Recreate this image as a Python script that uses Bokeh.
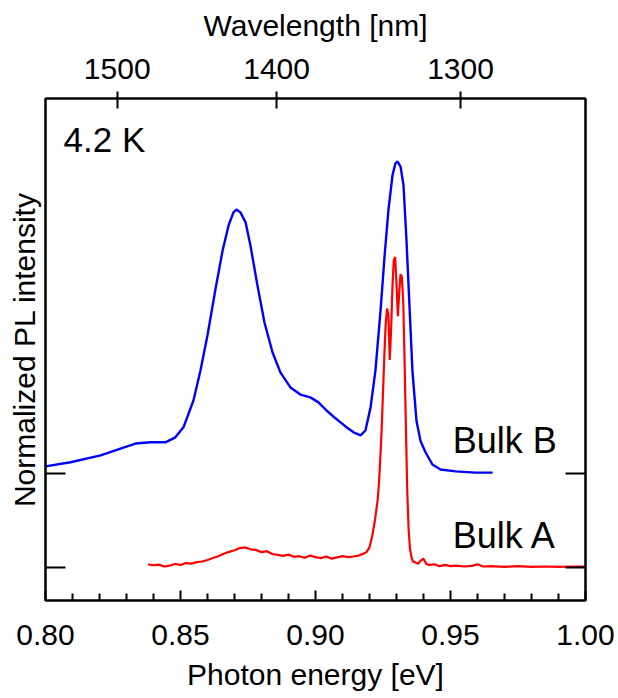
from bokeh.plotting import figure
from bokeh.models import (Range1d, LinearAxis, FixedTicker, CustomJSTickFormatter,
                          Label, NumeralTickFormatter)
from bokeh.embed import file_html
from bokeh.resources import INLINE

# ---------------- data ----------------
bulkB_energy = [0.8000, 0.8093, 0.8204, 0.8278, 0.8333, 0.8389, 0.8444, 0.8481, 0.8511,
                0.8548, 0.8574, 0.8600, 0.8630, 0.8656, 0.8678, 0.8696, 0.8707, 0.8722,
                0.8741, 0.8759, 0.8785, 0.8811, 0.8841, 0.8870, 0.8907, 0.8944, 0.8981,
                0.9011, 0.9041, 0.9074, 0.9111, 0.9141, 0.9167, 0.9185, 0.9204, 0.9222,
                0.9241, 0.9256, 0.9270, 0.9285, 0.9296, 0.9304, 0.9315, 0.9326, 0.9337,
                0.9348, 0.9359, 0.9374, 0.9389, 0.9407, 0.9433, 0.9463, 0.9519, 0.9593,
                0.9656]
bulkB_intensity = [0.024, 0.037, 0.059, 0.081, 0.097, 0.101, 0.101, 0.117, 0.149,
                   0.235, 0.331, 0.444, 0.594, 0.716, 0.796, 0.838, 0.847, 0.838,
                   0.806, 0.732, 0.604, 0.485, 0.389, 0.325, 0.277, 0.254, 0.245,
                   0.229, 0.203, 0.178, 0.152, 0.133, 0.123, 0.139, 0.213, 0.331,
                   0.524, 0.700, 0.844, 0.956, 0.995, 1.001, 0.985, 0.924, 0.748,
                   0.540, 0.330, 0.170, 0.105, 0.070, 0.030, 0.014, 0.008, 0.004,
                   0.004]

bulkA_energy = [0.838, 0.840, 0.842, 0.844, 0.846, 0.848, 0.850, 0.852, 0.854, 0.856,
                0.858, 0.860, 0.862, 0.864, 0.866, 0.868, 0.870, 0.872, 0.874, 0.876,
                0.878, 0.880, 0.882, 0.884, 0.886, 0.888, 0.890, 0.892, 0.894, 0.896,
                0.898, 0.900, 0.902, 0.904, 0.906, 0.908, 0.910, 0.912, 0.914, 0.916,
                0.918, 0.919, 0.920, 0.921, 0.922, 0.923, 0.9235, 0.924, 0.9245, 0.925,
                0.9255, 0.926, 0.9265, 0.9270, 0.9275, 0.928, 0.9285, 0.929, 0.9295, 0.930,
                0.9305, 0.931, 0.9315, 0.932, 0.9325, 0.933, 0.9335, 0.934, 0.9345, 0.935,
                0.9355, 0.936, 0.937, 0.938, 0.939, 0.940, 0.941, 0.942, 0.944, 0.946,
                0.948, 0.950, 0.952, 0.955, 0.958, 0.960, 0.962, 0.965, 0.970, 0.975,
                0.980, 0.985, 0.990, 0.995, 1.000]
bulkA_intensity = [0.010, 0.007, 0.009, 0.003, 0.006, 0.011, 0.008, 0.014, 0.012, 0.017,
                   0.019, 0.024, 0.030, 0.036, 0.044, 0.050, 0.055, 0.062, 0.064, 0.058,
                   0.056, 0.049, 0.052, 0.043, 0.040, 0.037, 0.041, 0.034, 0.036, 0.031,
                   0.038, 0.033, 0.030, 0.035, 0.028, 0.032, 0.036, 0.033, 0.035, 0.038,
                   0.045, 0.050, 0.065, 0.100, 0.150, 0.215, 0.270, 0.350, 0.440, 0.560,
                   0.680, 0.780, 0.830, 0.810, 0.665, 0.760, 0.900, 0.985, 0.995, 0.910,
                   0.805, 0.880, 0.940, 0.930, 0.850, 0.660, 0.440, 0.240, 0.120, 0.060,
                   0.035, 0.020, 0.016, 0.012, 0.022, 0.028, 0.012, 0.008, 0.010, 0.004,
                   0.008, 0.004, 0.006, 0.003, 0.005, 0.010, 0.003, 0.004, 0.002, 0.004,
                   0.002, 0.003, 0.002, 0.003, 0.003]

bulkB_offset = 0.3
energy_ticks = [0.80, 0.85, 0.90, 0.95, 1.00]
energy_minor_ticks = [0.81, 0.82, 0.83, 0.84, 0.86, 0.87, 0.88, 0.89, 0.91, 0.92,
                      0.93, 0.94, 0.96, 0.97, 0.98, 0.99]
wavelength_ticks_nm = [1500, 1400, 1300]
hc_eVnm = 1239.84
baseline_ticks = [0.0, bulkB_offset]

FONT = "Liberation Sans"

# ---------------- figure ----------------
p = figure(width=618, height=698, output_backend="svg", toolbar_location=None,
           x_range=Range1d(0.80, 1.00), y_range=Range1d(-0.106, 1.503),
           x_axis_location=None, y_axis_location=None,
           min_border_left=45, min_border_right=33, min_border_top=98, min_border_bottom=98)
p.xgrid.visible = False
p.ygrid.visible = False
p.outline_line_color = "black"
p.outline_line_width = 2
p.background_fill_color = "white"
p.border_fill_color = "white"

p.line(bulkB_energy, [v + bulkB_offset for v in bulkB_intensity], line_color="#0000FF", line_width=2.4)
p.line(bulkA_energy, bulkA_intensity, line_color="#FF0000", line_width=2.2)

def style_axis(ax):
    ax.axis_line_width = 2
    ax.major_tick_line_width = 2
    ax.minor_tick_line_width = 2
    ax.axis_label_text_font = FONT
    ax.axis_label_text_font_style = "normal"
    ax.axis_label_text_font_size = "30px"
    ax.major_label_text_font = FONT
    ax.major_label_text_font_size = "30px"
    ax.axis_label_text_color = "black"
    ax.major_label_text_color = "black"

# bottom axis
xb = LinearAxis(ticker=FixedTicker(ticks=energy_ticks, minor_ticks=energy_minor_ticks),
                formatter=NumeralTickFormatter(format="0.00"),
                axis_label="Photon energy [eV]")
style_axis(xb)
xb.major_tick_in = 10
xb.major_tick_out = 0
xb.minor_tick_in = 7
xb.minor_tick_out = 0
xb.major_label_standoff = 24
xb.axis_label_standoff = 10
p.add_layout(xb, "below")

# top axis (wavelength)
xt = LinearAxis(ticker=FixedTicker(ticks=[hc_eVnm / w for w in wavelength_ticks_nm], minor_ticks=[]),
                formatter=CustomJSTickFormatter(code="return Math.round(1239.84 / tick).toString();"),
                axis_label="Wavelength [nm]")
style_axis(xt)
xt.major_tick_in = 10
xt.major_tick_out = 7
xt.minor_tick_in = 0
xt.minor_tick_out = 0
xt.major_label_standoff = 13
xt.axis_label_standoff = 14
p.add_layout(xt, "above")

# left axis
yl = LinearAxis(ticker=FixedTicker(ticks=baseline_ticks, minor_ticks=[]),
                formatter=CustomJSTickFormatter(code="return '';"),
                axis_label="Normalized PL intensity")
style_axis(yl)
yl.major_tick_in = 20
yl.major_tick_out = 0
yl.major_label_standoff = 0
yl.axis_label_standoff = 5
p.add_layout(yl, "left")

# right axis
yr = LinearAxis(ticker=FixedTicker(ticks=baseline_ticks, minor_ticks=[]),
                formatter=CustomJSTickFormatter(code="return '';"))
style_axis(yr)
yr.major_tick_in = 20
yr.major_tick_out = 0
yr.major_label_standoff = 0
p.add_layout(yr, "right")

# annotations
p.add_layout(Label(x=0.8067, y=1.372, text="4.2 K", text_font=FONT, text_font_size="35px",
                   text_align="left", text_baseline="alphabetic", text_color="black"))
p.add_layout(Label(x=0.9508, y=0.407, text="Bulk B", text_font=FONT, text_font_size="36px",
                   text_align="left", text_baseline="alphabetic", text_color="black"))
p.add_layout(Label(x=0.9508, y=0.102, text="Bulk A", text_font=FONT, text_font_size="36px",
                   text_align="left", text_baseline="alphabetic", text_color="black"))

open("out.html", "w").write(file_html(p, INLINE))
